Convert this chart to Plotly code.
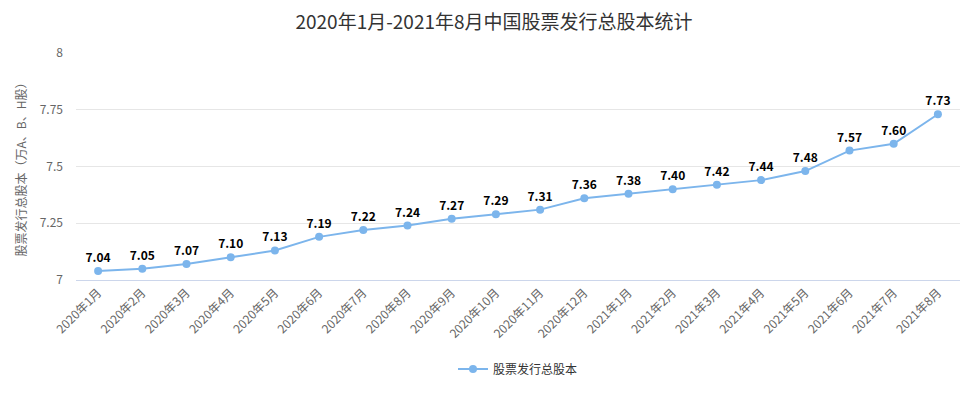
"""中国股票发行总股本统计（Plotly）"""

import plotly.graph_objects as go

months = ['2020年1月', '2020年2月', '2020年3月', '2020年4月', '2020年5月', '2020年6月',
          '2020年7月', '2020年8月', '2020年9月', '2020年10月', '2020年11月', '2020年12月',
          '2021年1月', '2021年2月', '2021年3月', '2021年4月', '2021年5月', '2021年6月',
          '2021年7月', '2021年8月']
total_shares = [7.04, 7.05, 7.07, 7.10, 7.13, 7.19, 7.22, 7.24, 7.27, 7.29, 7.31, 7.36,
                7.38, 7.40, 7.42, 7.44, 7.48, 7.57, 7.60, 7.73]
y_ticks = [7, 7.25, 7.5, 7.75, 8]

FONT = 'Noto Sans CJK SC'

fig = go.Figure(go.Scatter(
    x=months,
    y=total_shares,
    mode='lines+markers+text',
    name='股票发行总股本',
    line=dict(color='#7cb5ec', width=2),
    marker=dict(color='#7cb5ec', size=8),
    text=[f'{v:.2f}' for v in total_shares],
    textposition='top center',
    textfont=dict(family=FONT, size=12, color='#000000', weight='bold'),
))

# 页面 body 默认有 8px 外边距，边距按此抵消
fig.update_layout(
    width=972, height=400,
    margin=dict(l=68, r=20, t=45, b=128, autoexpand=False),
    paper_bgcolor='white', plot_bgcolor='white',
    font=dict(family=FONT, color='#666666'),
    title=dict(text='2020年1月-2021年8月中国股票发行总股本统计', x=0.5, xanchor='center',
               y=0.964, yanchor='middle',
               font=dict(size=19, color='#333333')),
    showlegend=True,
    legend=dict(orientation='h', x=0.5, xanchor='center', y=-0.392, yanchor='middle',
                font=dict(size=12, color='#333333')),
)
fig.update_xaxes(
    type='category', tickangle=-45, tickfont=dict(size=12, color='#666666'),
    showgrid=False, showline=True, linecolor='#ccd6eb', linewidth=1,
    ticks='', range=[-0.5, len(months) - 0.5], automargin=False,
)
fig.update_yaxes(
    range=[7, 8], tickvals=y_ticks, ticktext=['7', '7.25', '7.5', '7.75', '8'],
    tickfont=dict(size=12, color='#666666'), showgrid=True, gridcolor='#e6e6e6',
    zeroline=False, ticklabelstandoff=12, automargin=False,
    title=dict(text='股票发行总股本（万A、B、H股）', font=dict(size=12, color='#666666'), standoff=10),
)

fig.write_html("out.html")
